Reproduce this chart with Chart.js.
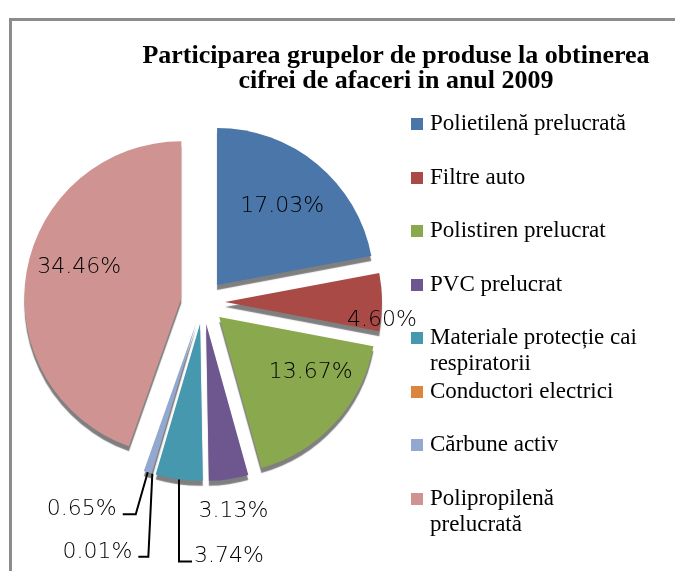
<!DOCTYPE html>
<html>
<head>
<meta charset="utf-8">
<script src="https://cdn.jsdelivr.net/npm/chart.js@4/dist/chart.umd.min.js"></script>
<style>
html,body{margin:0;padding:0;background:#fff;}
#wrap{position:relative;width:675px;height:571px;overflow:hidden;}
#frame{position:absolute;left:9px;top:18px;width:700px;height:600px;border-left:3px solid #8c8c8c;border-top:3px solid #8c8c8c;}
#title{position:absolute;left:100px;width:592px;top:42px;text-align:center;font:bold 26px/25px "Liberation Serif",serif;color:#000;}
#legend{position:absolute;left:411px;top:110px;font:23px/26px "Liberation Serif",serif;color:#000;}
.item{position:absolute;left:0;width:262px;height:53px;}
.box{position:absolute;left:0;top:8px;width:12px;height:12px;}
.txt{position:absolute;left:19px;top:0;width:214px;}
canvas{position:absolute;left:0;top:0;}
</style>
</head>
<body>
<div id="wrap">
  <div id="frame"></div>
  <canvas id="pie" width="675" height="571"></canvas>
  <div id="title">Participarea grupelor de produse la obtinerea<br>cifrei de afaceri in anul 2009</div>
  <div id="legend"></div>
</div>
<script>
// product groups, share of turnover 2009 (%)
const categories = ['Polietilenă prelucrată','Filtre auto','Polistiren prelucrat','PVC prelucrat',
  'Materiale protecție cai respiratorii','Conductori electrici','Cărbune activ','Polipropilenă prelucrată'];
const values = [17.03, 4.60, 13.67, 3.13, 3.74, 0.01, 0.65, 34.46];
const colors = ['#4a76aa','#a94a47','#8aa84e','#6e568f','#4598ae','#db853f','#93a8cf','#cf9391'];

const EXPLODE = 22;
const ROW = 53.5;

// where each value label goes: r = fraction of radius, or a leader path from the outer edge
const labelPlace = [
  {r:0.65},
  {r:1.0, dy:18},
  {r:0.68, dx:13, dy:-17},
  {r:1.21},
  {path:[[0,82],[13,82]], align:'left'},
  {path:[[-4,83],[-14,83]], align:'right'},
  {path:[[-12,42],[-25,42]], align:'right'},
  {r:0.66, dy:-13}
];

// html legend
const leg = document.getElementById('legend');
categories.forEach((c,i)=>{
  const it = document.createElement('div'); it.className='item'; it.style.top=(i*ROW)+'px';
  const b = document.createElement('div'); b.className='box'; b.style.background=colors[i];
  const t = document.createElement('div'); t.className='txt'; t.textContent=c;
  it.appendChild(b); it.appendChild(t); leg.appendChild(it);
});

const explode = {
  id:'explode',
  afterDatasetUpdate(chart,args){
    args.meta.data.forEach(a=>{
      const m=(a.startAngle+a.endAngle)/2;
      a.x+=Math.cos(m)*EXPLODE; a.y+=Math.sin(m)*EXPLODE;
    });
  }
};

const rim = {
  id:'rim',
  beforeDatasetDraw(chart){
    const c=chart.ctx; c.save();
    c.shadowColor='rgba(0,0,0,0.5)'; c.shadowOffsetY=5; c.shadowBlur=1;
  },
  afterDatasetDraw(chart){ chart.ctx.restore(); }
};

const valueLabels = {
  id:'valueLabels',
  afterDatasetsDraw(chart){
    const ctx=chart.ctx;
    const arcs=chart.getDatasetMeta(0).data;
    ctx.save();
    ctx.font='300 22px "DejaVu Sans", sans-serif';
    ctx.fillStyle='#000'; ctx.strokeStyle='#000'; ctx.lineWidth=2;
    arcs.forEach((a,i)=>{
      const p=labelPlace[i], txt=values[i].toFixed(2)+'%';
      const m=(a.startAngle+a.endAngle)/2, cx=Math.cos(m), sy=Math.sin(m);
      if(p.path){
        const x0=a.x+cx*a.outerRadius, y0=a.y+sy*a.outerRadius;
        ctx.beginPath(); ctx.moveTo(x0,y0);
        let x=x0,y=y0;
        p.path.forEach(d=>{x=x0+d[0]; y=y0+d[1]; ctx.lineTo(x,y);});
        ctx.stroke();
        ctx.textAlign=p.align; ctx.textBaseline='alphabetic';
        ctx.fillText(txt, p.align==='left'?x+2:x-6, y+1);
      } else {
        const d=a.outerRadius*p.r;
        ctx.textAlign='center'; ctx.textBaseline='middle';
        ctx.fillText(txt, a.x+cx*d+(p.dx||0), a.y+sy*d+(p.dy||0));
      }
    });
    ctx.restore();
  }
};

new Chart(document.getElementById('pie'),{
  type:'pie',
  data:{
    labels:categories,
    datasets:[{data:values, backgroundColor:colors, borderWidth:0, radius:157, clip:false}]
  },
  options:{
    responsive:false,
    devicePixelRatio:1,
    animation:false,
    events:[],
    layout:{padding:{left:0,right:269,top:33,bottom:0}},
    plugins:{legend:{display:false},title:{display:false},tooltip:{enabled:false}}
  },
  plugins:[explode,rim,valueLabels]
});
</script>
</body>
</html>
